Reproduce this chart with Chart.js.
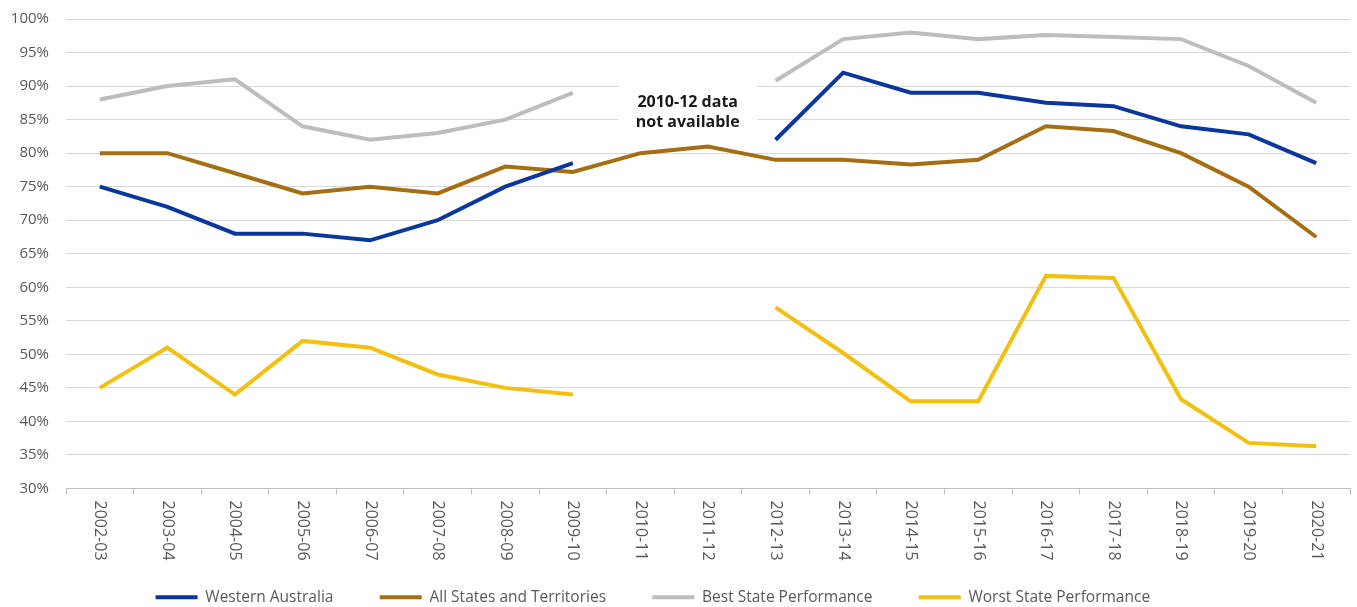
<!DOCTYPE html>
<html>
<head>
<meta charset="utf-8">
<script src="https://cdn.jsdelivr.net/npm/chart.js@4/dist/chart.umd.min.js"></script>
<style>
    html, body { margin: 0; padding: 0; background: #fff; }
    #wrap { width: 1357px; height: 607px; }
</style>
</head>
<body>
<div id="wrap"><canvas id="canvas"></canvas></div>
<script>
const years = ['2002-03', '2003-04', '2004-05', '2005-06', '2006-07', '2007-08', '2008-09', '2009-10', '2010-11',
    '2011-12', '2012-13', '2013-14', '2014-15', '2015-16', '2016-17', '2017-18', '2018-19', '2019-20', '2020-21'];

// no state figures for 2010-11 and 2011-12
const westernAustralia = [75, 72, 68, 68, 67, 70, 75, 78.5, null, null, 82, 92, 89, 89, 87.5, 87, 84, 82.8, 78.5];
const allStates = [80, 80, 77, 74, 75, 74, 78, 77.2, 80, 81, 79, 79, 78.3, 79, 84, 83.3, 80, 75, 67.5];
const bestState = [88, 90, 91, 84, 82, 83, 85, 89, null, null, 90.8, 97, 98, 97, 97.6, 97.3, 97, 93, 87.5];
const worstState = [45, 51, 44, 52, 51, 47, 45, 44, null, null, 57, 50.2, 43, 43, 61.7, 61.4, 43.3, 36.8, 36.3];

const noteLines = ['2010-12 data', 'not available'];

const tickFont = '"Open Sans", sans-serif';
const tickColor = '#595959';

function series(label, values, color) {
    return {
        label: label,
        data: values,
        borderColor: color,
        backgroundColor: color,
        borderWidth: 4,
        tension: 0,
        pointRadius: 0,
        pointHoverRadius: 0,
        spanGaps: false
    };
}

// year labels run top-to-bottom under each category
const yearLabels = {
    id: 'yearLabels',
    afterDraw(chart) {
        const x = chart.scales.x;
        const ctx = chart.ctx;
        ctx.save();
        ctx.font = '16px ' + tickFont;
        ctx.fillStyle = tickColor;
        ctx.textAlign = 'left';
        ctx.textBaseline = 'middle';
        years.forEach((yr, i) => {
            ctx.save();
            ctx.translate(x.getPixelForValue(i), x.top + 12);
            ctx.rotate(Math.PI / 2);
            ctx.fillText(yr, 0, 0);
            ctx.restore();
        });
        ctx.restore();
    }
};

// white note box over the gap years
const gapNote = {
    id: 'gapNote',
    beforeDatasetsDraw(chart) {
        const x = chart.scales.x;
        const y = chart.scales.y;
        const ctx = chart.ctx;
        const cx = x.getPixelForValue(8.7);
        const top = y.getPixelForValue(91);
        const bottom = y.getPixelForValue(82.5);
        ctx.save();
        ctx.fillStyle = '#ffffff';
        ctx.fillRect(cx - 69, top, 138, bottom - top);
        ctx.font = 'bold 16px "Open Sans", sans-serif';
        ctx.fillStyle = '#1a1a1a';
        ctx.textAlign = 'center';
        ctx.textBaseline = 'middle';
        ctx.fillText(noteLines[0], cx, y.getPixelForValue(87.6));
        ctx.fillText(noteLines[1], cx, y.getPixelForValue(84.6));
        ctx.restore();
    }
};

const data = {
    labels: years,
    datasets: [
        series('Western Australia', westernAustralia, '#0a369f'),
        series('All States and Territories', allStates, '#a66e12'),
        series('Best State Performance', bestState, '#bdbdbd'),
        series('Worst State Performance', worstState, '#f4c00f')
    ]
};

const config = {
    type: 'line',
    data: data,
    options: {
        responsive: true,
        maintainAspectRatio: false,
        animation: false,
        layout: { padding: { top: 0, right: 7, left: 4, bottom: -8 } },
        plugins: {
            tooltip: { enabled: false },
            legend: {
                position: 'bottom',
                labels: {
                    usePointStyle: true,
                    pointStyle: 'line',
                    pointStyleWidth: 42,
                    padding: 2,
                    color: tickColor,
                    font: { family: tickFont, size: 15.5 },
                    generateLabels(chart) {
                        const items = Chart.defaults.plugins.legend.labels.generateLabels(chart);
                        items.forEach((it, i) => {
                            it.text = it.text + (i === items.length - 1 ? '            ' : '           ');
                        });
                        return items;
                    }
                }
            }
        },
        scales: {
            x: {
                offset: true,
                grid: {
                    offset: true,
                    drawOnChartArea: false,
                    drawTicks: true,
                    tickLength: 6,
                    color: '#bfbfbf'
                },
                border: { display: true, color: '#bfbfbf' },
                ticks: { display: false },
                afterFit(scale) { scale.height = 99; }
            },
            y: {
                min: 30,
                max: 100,
                ticks: {
                    stepSize: 5,
                    padding: 17,
                    color: tickColor,
                    font: { family: tickFont, size: 15 },
                    callback: v => v + '%'
                },
                grid: { color: '#d9d9d9', drawTicks: false },
                border: { display: false },
                afterFit(scale) {
                    scale.width = 62;
                    scale.paddingTop = 19;
                    scale.paddingBottom = 9;
                }
            }
        }
    },
    plugins: [yearLabels, gapNote]
};

const chart = new Chart(document.getElementById('canvas'), config);
</script>
</body>
</html>
